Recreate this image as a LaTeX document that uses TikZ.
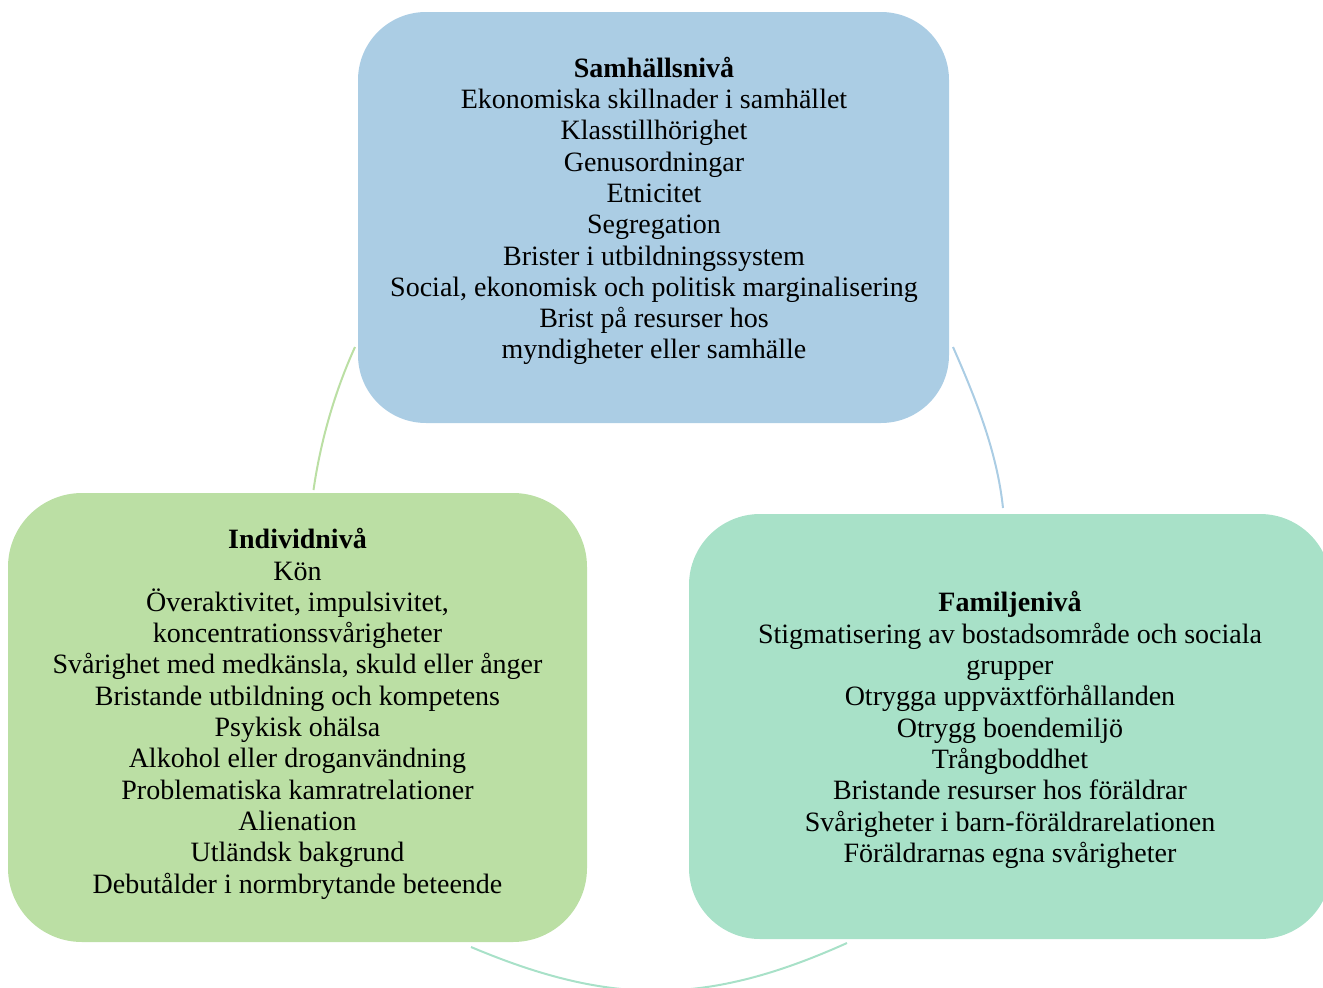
\documentclass[tikz,border=0pt]{standalone}
\usepackage{fontspec}
\setmainfont{Liberation Serif}
\definecolor{topc}{RGB}{171,205,228}
\definecolor{leftc}{RGB}{187,223,164}
\definecolor{rightc}{RGB}{168,225,200}
\begin{document}
\begin{tikzpicture}[x=1pt,y=-1pt,
  box/.style={draw=none},
  txt/.style={anchor=north,inner sep=0pt,align=center,font=\fontsize{28}{31.3}\selectfont},
  arcline/.style={line width=2pt}]
\useasboundingbox (0,0) rectangle (1323,988);
% boxes
\fill[topc,rounded corners=68pt] (358,12) rectangle (949,423);
\fill[leftc,rounded corners=74pt] (8,493) rectangle (587,942);
\fill[rightc,rounded corners=71pt] (689,514) rectangle (1331,939);
% texts
\node[txt] (top) at (654,55) {\rule{0pt}{22pt}\textbf{Samhällsnivå}\\
Ekonomiska skillnader i samhället\\
Klasstillhörighet\\
Genusordningar\\
Etnicitet\\
Segregation\\
Brister i utbildningssystem\\
Social, ekonomisk och politisk marginalisering\\
Brist på resurser hos\\
myndigheter eller samhälle};
\node[txt] (left) at (297.5,526.5) {\rule{0pt}{22pt}\textbf{Individnivå}\\
Kön\\
Överaktivitet, impulsivitet,\\
koncentrationssvårigheter\\
Svårighet med medkänsla, skuld eller ånger\\
Bristande utbildning och kompetens\\
Psykisk ohälsa\\
Alkohol eller droganvändning\\
Problematiska kamratrelationer\\
Alienation\\
Utländsk bakgrund\\
Debutålder i normbrytande beteende};
\node[txt] (right) at (1010,589.7) {\rule{0pt}{22pt}\textbf{Familjenivå}\\
Stigmatisering av bostadsområde och sociala\\
grupper\\
Otrygga uppväxtförhållanden\\
Otrygg boendemiljö\\
Trångboddhet\\
Bristande resurser hos föräldrar\\
Svårigheter i barn-föräldrarelationen\\
Föräldrarnas egna svårigheter};
% arcs
\coordinate (gA) at (355,347);
\coordinate (gB) at (313.5,490);
\coordinate (bA) at (953,347);
\coordinate (bB) at (1003,508);
\coordinate (tA) at (847,943);
\coordinate (tB) at (471,947);
\draw[arcline,leftc] (gA) .. controls (334.5,392) and (320.5,441.5) .. (gB);
\draw[arcline,topc] (bA) .. controls (975,397) and (997,451) .. (bB);
\draw[arcline,rightc] (tA) .. controls (707,1006) and (611,1006) .. (tB);
\end{tikzpicture}
\end{document}
